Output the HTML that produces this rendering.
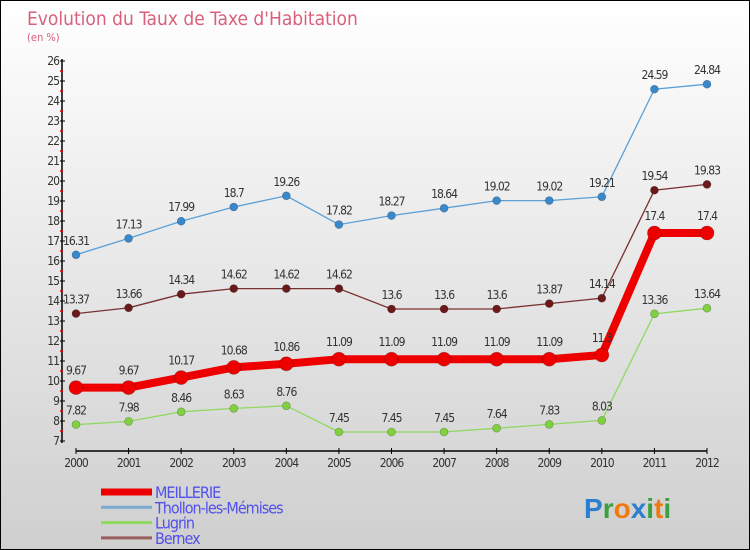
<!DOCTYPE html>
<html><head><meta charset="utf-8"><style>
body{margin:0}
#c{width:750px;height:550px;position:relative;background:linear-gradient(#fff,#cfcfcf);box-sizing:border-box;border:1px solid #000;font-family:"DejaVu Sans Condensed","Liberation Sans",sans-serif;overflow:hidden}
svg{position:absolute;left:0;top:0}
</style></head><body>
<div id="c">
<svg id="s" width="750" height="550">
<text x="26" y="24" font-size="19" fill="#d8607a" style="font-family:'DejaVu Sans ExtraLight','DejaVu Sans Condensed','Liberation Sans',sans-serif">Evolution du Taux de Taxe d'Habitation</text>
<text x="26" y="40" font-size="11" fill="#d8607a">(en %)</text>
</svg>
</div>
<script>
const years=[2000,2001,2002,2003,2004,2005,2006,2007,2008,2009,2010,2011,2012];
const meillerie=[9.67,9.67,10.17,10.68,10.86,11.09,11.09,11.09,11.09,11.09,11.3,17.4,17.4];
const thollon=[16.31,17.13,17.99,18.7,19.26,17.82,18.27,18.64,19.02,19.02,19.21,24.59,24.84];
const lugrin=[7.82,7.98,8.46,8.63,8.76,7.45,7.45,7.45,7.64,7.83,8.03,13.36,13.64];
const bernex=[13.37,13.66,14.34,14.62,14.62,14.62,13.6,13.6,13.6,13.87,14.14,19.54,19.83];
const yTicks=[7,8,9,10,11,12,13,14,15,16,17,18,19,20,21,22,23,24,25,26];
const labels=["9.67","9.67","10.17","10.68","10.86","11.09","11.09","11.09","11.09","11.09","11.3","17.4","17.4"];
const NS="http://www.w3.org/2000/svg",s=document.getElementById('s');
const X=i=>75+i*(706-75)/(years.length-1);
const Y=v=>440-(v-7)*20;
const LF="'DejaVu Sans ExtraLight','DejaVu Sans Condensed','Liberation Sans',sans-serif";
function el(t,a,p){const e=document.createElementNS(NS,t);for(const k in a)e.setAttribute(k,a[k]);(p||s).appendChild(e);return e;}
let ax=el('line',{x1:61,y1:58,x2:61,y2:442,stroke:'#000','stroke-width':1.5});

let xa=el('line',{x1:75,y1:450,x2:706,y2:450,stroke:'#000','stroke-width':1.5});

yTicks.forEach(v=>{
 el('line',{x1:59,y1:Y(v),x2:64,y2:Y(v),stroke:'#000'});
 if(v<26)el('line',{x1:59,y1:Y(v+0.5),x2:62,y2:Y(v+0.5),stroke:'#e00','stroke-width':1.5});
 const t=el('text',{x:58,y:Y(v)+4,'font-size':12,'text-anchor':'end',fill:'#333','letter-spacing':'-1',style:'font-family:'+LF});t.textContent=v;
 
});
years.forEach((y,i)=>{
 el('line',{x1:X(i),y1:447,x2:X(i),y2:453,stroke:'#000'});
 const t=el('text',{x:X(i),y:466,'font-size':12,'text-anchor':'middle',fill:'#333','letter-spacing':'-1',style:'font-family:'+LF});t.textContent=y;
 
});
function series(vals,color,dot,w,r,name,lbls){
 const g=el('g',{});
 el('polyline',{points:vals.map((v,i)=>X(i)+','+Y(v)).join(' '),fill:'none',stroke:color,'stroke-width':w},g);
 vals.forEach((v,i)=>{
  const c=el('circle',{cx:X(i),cy:Y(v),r:r,fill:dot,stroke:'rgba(0,0,0,0.3)','stroke-width':0.6},g);
  
  const t=el('text',{x:X(i),y:Y(v)-(r+6),'font-size':12,'text-anchor':'middle',fill:'#333','letter-spacing':'-1',style:'font-family:'+LF},g);
  t.textContent=lbls?lbls[i]:String(v);
  
 });
}
series(thollon,'#5aa0d8','#3a88cc',1.3,4,'thollon');
series(bernex,'#7a3030','#6a1a1a',1.3,4,'bernex');
series(lugrin,'#90d860','#80d040',1.3,4,'lugrin');
series(meillerie,'#ee0000','#ee0000',8,7,'meillerie',labels);
const leg=[['MEILLERIE','#ee0000',7],['Thollon-les-Mémises','#7aa8d0',3],['Lugrin','#90d860',3],['Bernex','#9a6060',3]];
leg.forEach((l,i)=>{
 const y=491+i*15.3;
 const g=el('g',{});
 el('line',{x1:100,y1:y,x2:151,y2:y,stroke:l[1],'stroke-width':l[2]},g);
 const t=el('text',{x:154,y:y+6,'font-size':16,fill:'#5050ee','letter-spacing':'-1',style:'font-family:'+LF},g);t.textContent=l[0];
});
const lg=el('text',{x:583,y:517,'font-size':28,'font-family':'Liberation Sans,sans-serif','font-weight':'bold'});

[['P','#2a7fd0'],['r','#3aa040'],['o','#f07a10'],['x','#2a7fd0'],['i','#3aa040'],['t','#f07a10'],['i','#3aa040']].forEach(c=>{const ts=el('tspan',{fill:c[1]},lg);ts.textContent=c[0];});
</script>
</body></html>
